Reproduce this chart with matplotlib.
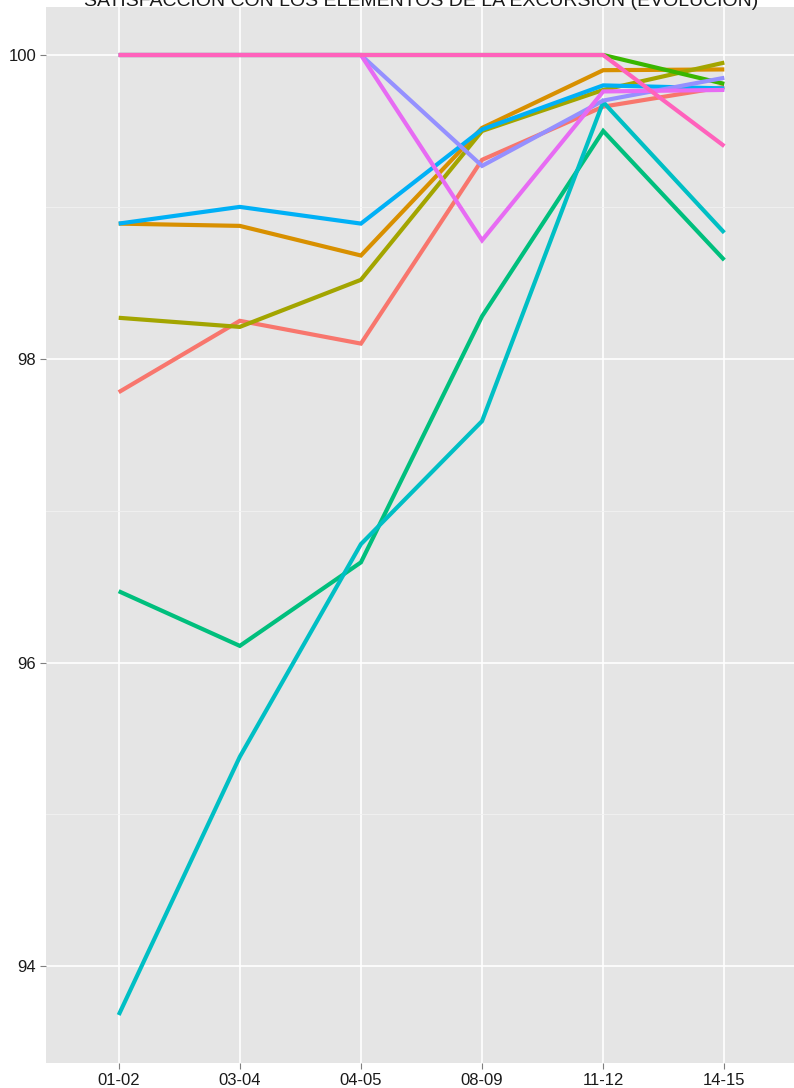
import matplotlib
matplotlib.use("Agg")
import matplotlib.pyplot as plt
from matplotlib.ticker import MultipleLocator

periods = ["01-02", "03-04", "04-05", "08-09", "11-12", "14-15"]

s1_salmon   = [97.78, 98.25, 98.10, 99.31, 99.66, 99.79]
s2_orange   = [98.89, 98.875, 98.68, 99.52, 99.90, 99.905]
s3_olive    = [98.27, 98.21, 98.52, 99.50, 99.77, 99.95]
s4_green    = [100.0, 100.0, 100.0, 100.0, 100.0, 99.81]
s5_seagreen = [96.47, 96.11, 96.66, 98.28, 99.50, 98.65]
s6_teal     = [93.68, 95.38, 96.78, 97.59, 99.69, 98.83]
s7_skyblue  = [98.89, 99.00, 98.89, 99.51, 99.80, 99.78]
s8_lavender = [100.0, 100.0, 100.0, 99.27, 99.70, 99.85]
s9_magenta  = [100.0, 100.0, 100.0, 98.78, 99.76, 99.77]
s10_pink    = [100.0, 100.0, 100.0, 100.0, 100.0, 99.40]

series = [s1_salmon, s2_orange, s3_olive, s4_green, s5_seagreen,
          s6_teal, s7_skyblue, s8_lavender, s9_magenta, s10_pink]
colors = ["#F8766D", "#D89000", "#A3A500", "#39B600", "#00BF7D",
          "#00BFC4", "#00B0F6", "#9590FF", "#E76BF3", "#FF62BC"]

title = "SATISFACCIÓN CON LOS ELEMENTOS DE LA EXCURSIÓN (EVOLUCIÓN)"

plt.rcParams['font.family'] = ['Liberation Sans', 'DejaVu Sans']

W, H = 794, 1088
fig = plt.figure(figsize=(W / 100, H / 100), dpi=100)
left, right, top, bottom = 46, 797, 7, 1063
ax = fig.add_axes([left / W, (H - bottom) / H, (right - left) / W, (bottom - top) / H])
ax.set_facecolor("#E5E5E5")

x = list(range(len(periods)))
for vals, c in zip(series, colors):
    ax.plot(x, vals, color=c, lw=3.0, solid_capstyle='butt', solid_joinstyle='miter', zorder=3)

ymin = min(min(s) for s in series)
ymax = max(max(s) for s in series)
pad = (ymax - ymin) * 0.05
ax.set_ylim(ymin - pad, ymax + pad)
ax.set_xlim(-0.6, len(periods) - 1 + 0.6)

ax.set_xticks(x)
ax.set_xticklabels(periods)
ax.yaxis.set_major_locator(MultipleLocator(2))
ax.yaxis.set_minor_locator(MultipleLocator(1))

ax.grid(which='major', color='white', lw=1.2, zorder=1)
ax.grid(which='minor', axis='y', color='#F2F2F2', lw=0.6, zorder=1)
for sp in ax.spines.values():
    sp.set_visible(False)
ax.tick_params(which='major', length=4, color='#7F7F7F', labelsize=12, labelcolor='#1A1A1A', pad=3)
ax.tick_params(which='minor', length=0)

fig.text((left + right) / 2 / W, 1 - 6 / H, title, ha='center', va='baseline',
         fontsize=14, color='#1A1A1A')

fig.savefig("out.png", dpi=100)
